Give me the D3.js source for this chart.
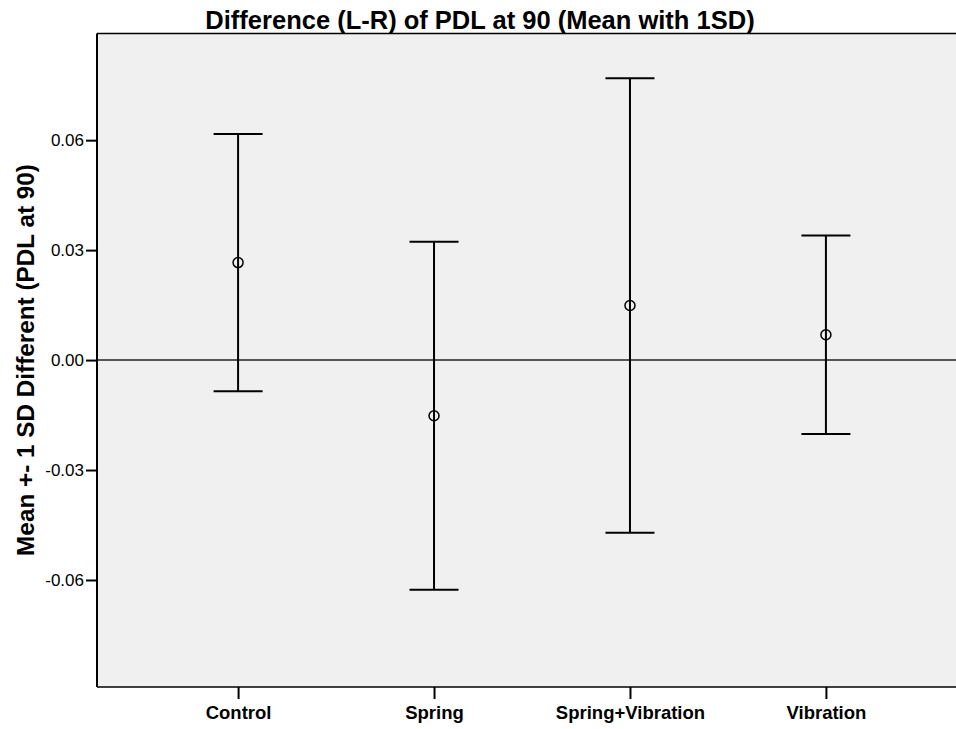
<!DOCTYPE html>
<html><head><meta charset="utf-8">
<script src="https://cdn.jsdelivr.net/npm/d3@7"></script>
<style>html,body{margin:0;padding:0;background:#fff;}svg{display:block;}</style>
</head><body>
<svg id="chart" width="956" height="729"></svg>
<script>
const categories = ["Control", "Spring", "Spring+Vibration", "Vibration"];
const means = [0.0266, -0.0152, 0.0149, 0.0069];
const sds = [0.0351, 0.0475, 0.0620, 0.0271];
const yTicks = [0.06, 0.03, 0.00, -0.03, -0.06];
const yDomain = [-0.0892, 0.0891];
const title = "Difference (L-R) of PDL at 90 (Mean with 1SD)";
const yTitle = "Mean +- 1 SD Different (PDL at 90)";

const svg = d3.select("#chart");
const W = 956, H = 729;
const m = {left: 97, top: 33.5, bottom: 687, right: 967};
const x = d3.scalePoint().domain(categories).range([m.left, m.right]).padding(0.72);
const y = d3.scaleLinear().domain(yDomain).range([m.bottom, m.top]);
const font = "Arial, 'Liberation Sans', Helvetica, sans-serif";

svg.append("rect").attr("x", m.left).attr("y", m.top).attr("width", W - m.left).attr("height", m.bottom - m.top).attr("fill", "#f0f0f0");

// frame lines
svg.append("line").attr("x1", m.left).attr("x2", W).attr("y1", m.top).attr("y2", m.top).attr("stroke", "#000").attr("stroke-width", 1.5);
svg.append("line").attr("x1", m.left).attr("x2", W).attr("y1", m.bottom).attr("y2", m.bottom).attr("stroke", "#000").attr("stroke-width", 1.5);

// zero line
svg.append("line").attr("x1", m.left).attr("x2", W).attr("y1", y(0)).attr("y2", y(0)).attr("stroke", "#222").attr("stroke-width", 1.6);

// y axis
const fmt = d => d.toFixed(2);
const yAxis = d3.axisLeft(y).tickValues(yTicks).tickFormat(fmt).tickSize(11).tickPadding(2);
const gy = svg.append("g").attr("transform", `translate(${m.left},0)`).call(yAxis);
gy.select(".domain").remove();
gy.append("line").attr("x1", 0).attr("x2", 0).attr("y1", m.top).attr("y2", m.bottom).attr("stroke", "#000").attr("stroke-width", 2);
gy.selectAll(".tick line").attr("stroke", "#000").attr("stroke-width", 2);
gy.selectAll(".tick text").attr("font-family", font).attr("font-size", 17).attr("fill", "#000");

// x axis
const xAxis = d3.axisBottom(x).tickSize(12).tickPadding(7);
const gx = svg.append("g").attr("transform", `translate(0,${m.bottom})`).call(xAxis);
gx.select(".domain").remove();
gx.selectAll(".tick line").attr("stroke", "#000").attr("stroke-width", 2);
gx.selectAll(".tick text").attr("font-family", font).attr("font-size", 18.5).attr("font-weight", "bold").attr("fill", "#000");

// error bars
const g = svg.append("g");
const data = categories.map((c, i) => ({c, m: means[i], lo: means[i] - sds[i], hi: means[i] + sds[i]}));
const capW = 24.5;
g.selectAll(".v").data(data).join("line").attr("x1", d => x(d.c)).attr("x2", d => x(d.c)).attr("y1", d => y(d.hi)).attr("y2", d => y(d.lo)).attr("stroke", "#000").attr("stroke-width", 2);
g.selectAll(".ct").data(data).join("line").attr("x1", d => x(d.c) - capW).attr("x2", d => x(d.c) + capW).attr("y1", d => y(d.hi)).attr("y2", d => y(d.hi)).attr("stroke", "#000").attr("stroke-width", 2);
g.selectAll(".cb").data(data).join("line").attr("x1", d => x(d.c) - capW).attr("x2", d => x(d.c) + capW).attr("y1", d => y(d.lo)).attr("y2", d => y(d.lo)).attr("stroke", "#000").attr("stroke-width", 2);
g.selectAll("circle").data(data).join("circle").attr("cx", d => x(d.c)).attr("cy", d => y(d.m)).attr("r", 5).attr("fill", "none").attr("stroke", "#000").attr("stroke-width", 1.5);

// titles
svg.append("text").attr("x", 480).attr("y", 29).attr("text-anchor", "middle").attr("font-family", font).attr("font-weight", "bold").attr("font-size", 25.5).text(title);
svg.append("text").attr("transform", `translate(34,360) rotate(-90)`).attr("text-anchor", "middle").attr("font-family", font).attr("font-weight", "bold").attr("font-size", 24.3).text(yTitle);
</script>
</body></html>
